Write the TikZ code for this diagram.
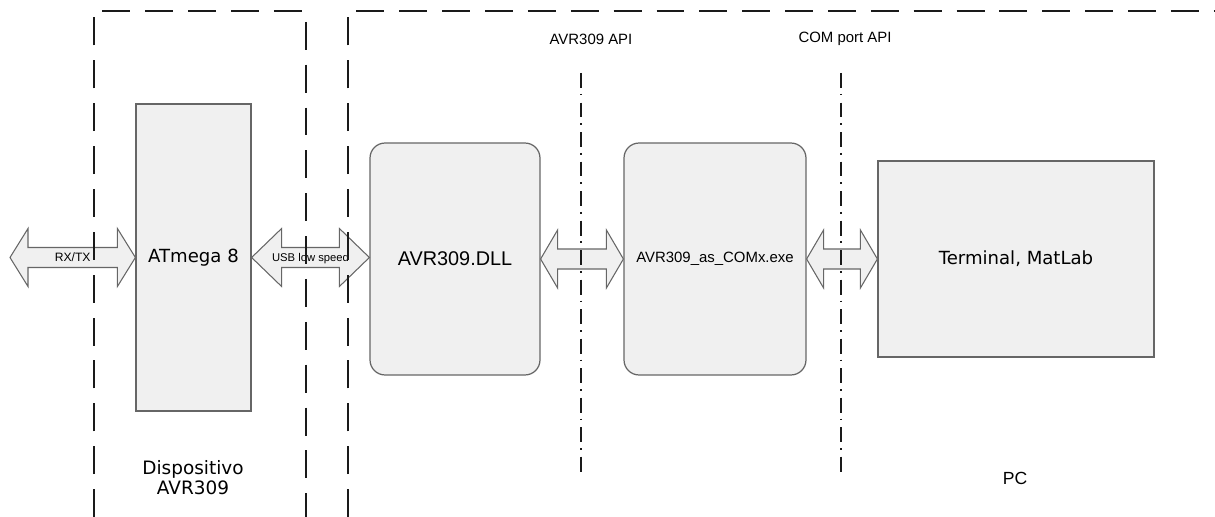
\documentclass[tikz,border=0pt]{standalone}
\usepackage{fontspec}
\setmainfont{Liberation Sans}
\newfontfamily\verdanafont{DejaVu Sans}
\usetikzlibrary{positioning, calc}
\definecolor{boxfill}{HTML}{F0F0F0}
\definecolor{boxline}{HTML}{666666}
\definecolor{frameline}{HTML}{1A1A1A}

\begin{document}
\begin{tikzpicture}[
        x=0.02cm, y=-0.02cm,
        chip_box/.style={draw=boxline, line width=0.7pt, fill=boxfill, inner sep=0pt, minimum width=2.3cm, minimum height=6.14cm},
        soft_box/.style={draw=boxline, line width=0.7pt, fill=boxfill, inner sep=0pt, rounded corners=0.3cm, minimum height=4.64cm},
        pc_box/.style={draw=boxline, line width=0.7pt, fill=boxfill, inner sep=0pt, minimum width=5.52cm, minimum height=3.92cm},
        bus_arrow/.style={draw=boxline, line width=0.6pt, fill=boxfill, line join=miter,
            to path={let \p1=(\tikztostart), \p2=(\tikztotarget) in
                -- (\x1+#1,\y1+0.58cm) -- (\x1+#1,\y1+0.2cm) -- (\x2-#1,\y1+0.2cm) -- (\x2-#1,\y1+0.58cm)
                -- (\x2,\y1) -- (\x2-#1,\y1-0.58cm) -- (\x2-#1,\y1-0.2cm) -- (\x1+#1,\y1-0.2cm)
                -- (\x1+#1,\y1-0.58cm) -- cycle \tikztonodes}},
        big_text/.style={font=\fontsize{11.3}{13}\selectfont},
        vd_text/.style={font=\verdanafont\fontsize{10.3}{11.4}\selectfont},
        api_text/.style={font=\fontsize{8.5}{10}\selectfont},
        frame_line/.style={draw=frameline, line width=1.1pt, dash pattern=on 15.9pt off 8.5pt},
        api_line/.style={draw=frameline, line width=0.9pt, dash pattern=on 8.5pt off 3.4pt on 0.9pt off 4pt}
    ]
    \useasboundingbox (0,0) rectangle (1215,517);

    % ========================================================
    % 1. BLOCCHI
    % ========================================================
    \node[chip_box, vd_text] (atm) at (193.5,257.5) {ATmega 8};
    \node[soft_box, big_text, minimum width=3.4cm] (dll) at (455,259) {AVR309.DLL};
    \node[soft_box, font=\fontsize{8.5}{10}\selectfont, minimum width=3.64cm] (exe) at (715,259) {AVR309\_as\_COMx.exe};
    \node[pc_box, vd_text] (term) at (1016,259) {Terminal, MatLab};

    % ========================================================
    % 2. FRECCE BIDIREZIONALI
    % ========================================================
    \coordinate (rxtx) at (10,257.5);
    \draw[bus_arrow=0.36cm] (rxtx) to (atm.west);
    \path (rxtx) -- node[font=\fontsize{6.9}{8}\selectfont] {RX/TX} (atm.west);

    \draw[bus_arrow=0.6cm] (atm.east) to (dll.west);
    \path (atm.east) -- node[font=\fontsize{6.4}{7}\selectfont] {USB low speed} (dll.west);

    \draw[bus_arrow=0.34cm] (dll.east) to (exe.west);
    \draw[bus_arrow=0.34cm] (exe.east) to (term.west);

    % ========================================================
    % 3. CONFINI E API
    % ========================================================
    \draw[frame_line] (94,517) -- (94,11) -- (306,11) -- (306,517);
    \draw[frame_line] (348,517) -- (348,11) -- (1215,11);

    \node[api_text] (api1) at (591,39) {AVR309 API};
    \node[api_text] (api2) at (845,39) {COM port API};
    \draw[api_line] (581,73) -- (581,477);
    \draw[api_line] (841,73) -- (841,477);

    \node[vd_text, align=center, font=\verdanafont\fontsize{10.5}{11.4}\selectfont] (dev) at (193,478) {Dispositivo\\AVR309};
    \node[font=\fontsize{10}{12}\selectfont] (pc) at (1015,478) {PC};

\end{tikzpicture}
\end{document}
